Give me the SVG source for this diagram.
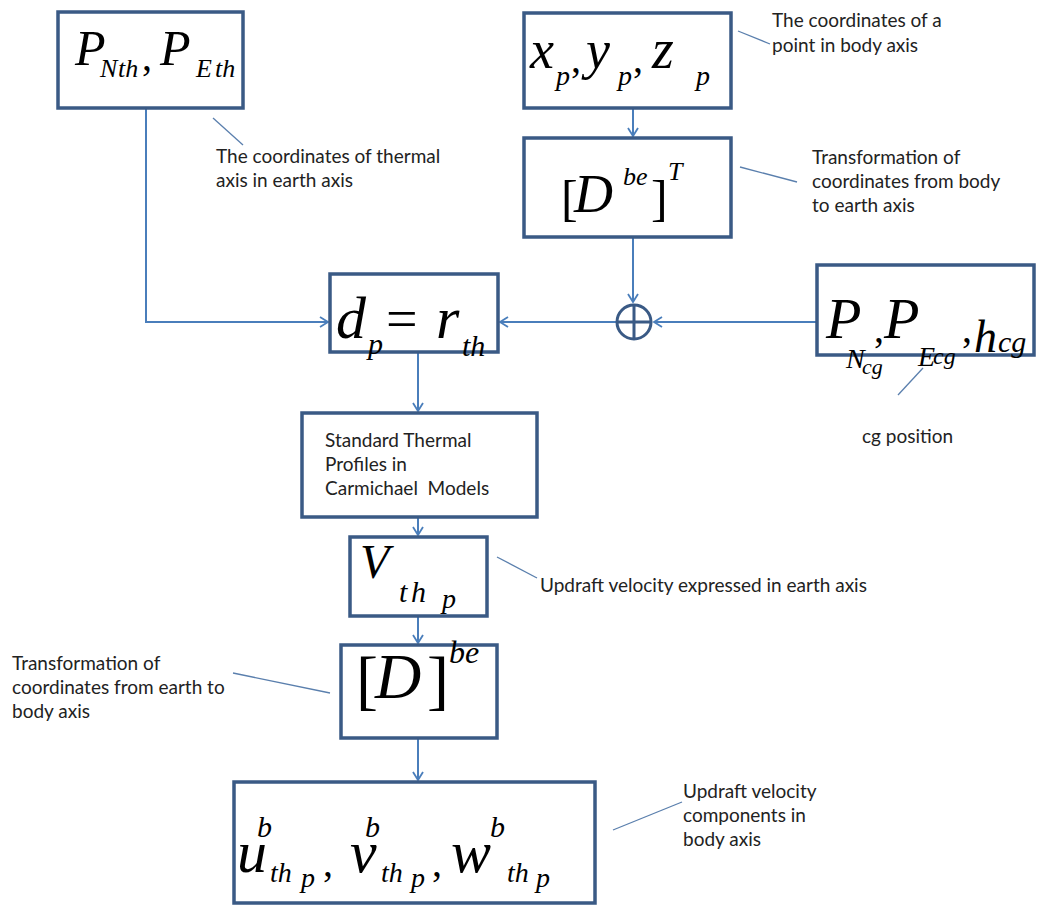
<svg xmlns="http://www.w3.org/2000/svg" width="1040" height="906" viewBox="0 0 1040 906">
<style>
.box{fill:#fff;stroke:#3a5a85;stroke-width:3.5}
.conn{stroke:#4a7ebb;stroke-width:2;fill:none}
.call{stroke:#5a7fad;stroke-width:1.3;fill:none}
.m{font-family:"Liberation Serif",serif;font-style:italic;fill:#000}
.r{font-family:"Liberation Serif",serif;fill:#000}
.c{font-family:Lato,"Liberation Sans",sans-serif;font-size:19px;fill:#222}
</style>
<defs>
<marker id="arr" markerUnits="userSpaceOnUse" markerWidth="14" markerHeight="14" refX="9" refY="6" orient="auto">
<path d="M1,1 L9,6 L1,11" fill="none" stroke="#4a7ebb" stroke-width="1.8"/>
</marker>
</defs>
<rect width="1040" height="906" fill="#fff"/>

<g id="connectors">
<path class="conn" d="M146,108 V322 H328" marker-end="url(#arr)"/>
<path class="conn" d="M633,108 V136" marker-end="url(#arr)"/>
<path class="conn" d="M633,237 V302" marker-end="url(#arr)"/>
<path class="conn" d="M817,322 H654" marker-end="url(#arr)"/>
<path class="conn" d="M616,322 H500" marker-end="url(#arr)"/>
<path class="conn" d="M418,352 V411" marker-end="url(#arr)"/>
<path class="conn" d="M418,517 V535" marker-end="url(#arr)"/>
<path class="conn" d="M418,616 V643" marker-end="url(#arr)"/>
<path class="conn" d="M418,738 V780" marker-end="url(#arr)"/>
<path class="call" d="M213,118 L243,145"/>
<path class="call" d="M738,31 L770,44"/>
<path class="call" d="M740,167 L797,182"/>
<path class="call" d="M923,368 L898,395"/>
<path class="call" d="M497,557 L537,578"/>
<path class="call" d="M233,673 L330,693"/>
<path class="call" d="M613,830 L682,802"/>
</g>

<g id="sum">
<circle cx="634" cy="322" r="17" fill="#fff" stroke="#3a5a85" stroke-width="3"/>
<path d="M617,322 H651 M634,305 V339" stroke="#3a5a85" stroke-width="3"/>
</g>

<g id="node-thermal-axis">
<rect class="box" x="58" y="12" width="185" height="96"/>
<text class="m" x="75" y="65" font-size="50">P</text>
<text class="m" x="100" y="77" font-size="26">N<tspan x="118">th</tspan></text>
<text class="r" x="142" y="70" font-size="40">,</text>
<text class="m" x="160" y="65" font-size="50">P</text>
<text class="m" x="196" y="77" font-size="26">E<tspan x="215">th</tspan></text>
</g>

<g id="node-point">
<rect class="box" x="524" y="13" width="207" height="95"/>
<text class="m" x="530" y="68" font-size="54">x</text>
<text class="m" x="556" y="85" font-size="28">p</text>
<text class="r" x="571" y="72" font-size="40">,</text>
<text class="m" x="586" y="68" font-size="54">y</text>
<text class="m" x="618" y="85" font-size="28">p</text>
<text class="r" x="633" y="72" font-size="40">,</text>
<text class="m" x="652" y="68" font-size="56">z</text>
<text class="m" x="696" y="85" font-size="28">p</text>
</g>

<g id="node-dbeT">
<rect class="box" x="524" y="138" width="207" height="99"/>
<text class="r" x="561" y="215" font-size="50">[</text>
<text class="m" x="574" y="212" font-size="54">D</text>
<text class="m" x="623" y="185" font-size="26">be</text>
<text class="r" x="651" y="215" font-size="50">]</text>
<text class="m" x="668" y="180" font-size="26">T</text>
</g>

<g id="node-dp">
<rect class="box" x="330" y="274" width="168" height="78"/>
<text class="m" x="336" y="338" font-size="60">d</text>
<text class="m" x="368" y="354" font-size="30">p</text>
<text class="r" x="386" y="338" font-size="56">=</text>
<text class="m" x="436" y="338" font-size="60">r</text>
<text class="m" x="462" y="356" font-size="30">th</text>
</g>

<g id="node-cg">
<rect class="box" x="817" y="265" width="217" height="90"/>
<text class="m" x="826" y="338" font-size="58">P</text>
<text class="m" x="846" y="368" font-size="28">N</text>
<text class="m" x="862" y="374" font-size="22">cg</text>
<text class="r" x="874" y="342" font-size="40">,</text>
<text class="m" x="884" y="338" font-size="58">P</text>
<text class="m" x="918" y="366" font-size="28">E</text>
<text class="m" x="933" y="364" font-size="24">cg</text>
<text class="r" x="962" y="342" font-size="40">,</text>
<text class="m" x="974" y="352" font-size="46">h</text>
<text class="m" x="998" y="352" font-size="30">cg</text>
</g>

<g id="node-profiles">
<rect class="box" x="302" y="413" width="235" height="104"/>
<text class="c" x="325" y="447">Standard Thermal</text>
<text class="c" x="325" y="471">Profiles in</text>
<text class="c" x="325" y="495" xml:space="preserve">Carmichael  Models</text>
</g>

<g id="node-vthp">
<rect class="box" x="350" y="537" width="137" height="79"/>
<text class="m" x="360" y="578" font-size="48">V</text>
<text class="m" x="399" y="602" font-size="30">t<tspan x="411">h</tspan></text>
<text class="m" x="442" y="608" font-size="28">p</text>
</g>

<g id="node-dbe">
<rect class="box" x="341" y="645" width="156" height="93"/>
<text class="r" x="356" y="702" font-size="66">[</text>
<text class="m" x="375" y="698" font-size="64">D</text>
<text class="r" x="427" y="702" font-size="66">]</text>
<text class="m" x="449" y="663" font-size="32">be</text>
</g>

<g id="node-uvw">
<rect class="box" x="234" y="782" width="361" height="121"/>
<text class="m" x="237" y="872" font-size="60">u</text>
<text class="m" x="257" y="837" font-size="30">b</text>
<text class="m" x="270" y="882" font-size="28">th</text>
<text class="m" x="301" y="887" font-size="28">p</text>
<text class="r" x="323" y="876" font-size="40">,</text>
<text class="m" x="350" y="872" font-size="60">v</text>
<text class="m" x="365" y="837" font-size="30">b</text>
<text class="m" x="381" y="882" font-size="28">th</text>
<text class="m" x="411" y="887" font-size="28">p</text>
<text class="r" x="432" y="876" font-size="40">,</text>
<text class="m" x="451" y="872" font-size="60">w</text>
<text class="m" x="490" y="837" font-size="30">b</text>
<text class="m" x="507" y="882" font-size="28">th</text>
<text class="m" x="536" y="887" font-size="28">p</text>
</g>

<g id="labels">
<text class="c" x="216" y="163">The coordinates of thermal</text>
<text class="c" x="216" y="187">axis in earth axis</text>
<text class="c" x="772" y="27">The coordinates of a</text>
<text class="c" x="772" y="52">point in body axis</text>
<text class="c" x="812" y="164">Transformation of</text>
<text class="c" x="812" y="188">coordinates from body</text>
<text class="c" x="812" y="212">to earth axis</text>
<text class="c" x="862" y="443">cg position</text>
<text class="c" x="540" y="592">Updraft velocity expressed in earth axis</text>
<text class="c" x="12" y="670">Transformation of</text>
<text class="c" x="12" y="694">coordinates from earth to</text>
<text class="c" x="12" y="718">body axis</text>
<text class="c" x="683" y="798">Updraft velocity</text>
<text class="c" x="683" y="822">components in</text>
<text class="c" x="683" y="846">body axis</text>
</g>
</svg>
